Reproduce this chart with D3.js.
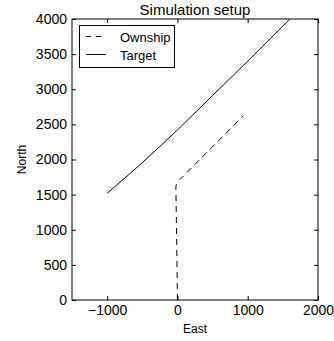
<!DOCTYPE html>
<html>
<head>
<meta charset="utf-8">
<script src="https://cdn.jsdelivr.net/npm/d3@7"></script>
<style>
  body { margin: 0; background: #fff; }
  text { font-family: "Liberation Sans", Arial, sans-serif; }
</style>
</head>
<body>
<svg id="plot" width="334" height="341"></svg>
<script>
// ownship track (east, north)
let ownEast  = [0, -10, -22, -20, -8, 10, 40, 935];
let ownNorth = [0, 800, 1580, 1630, 1665, 1690, 1720, 2620];

// target track (east, north)
let tgtEast  = [-1000, -750, -500, -250, 0, 500, 1000, 1600];
let tgtNorth = [1520, 1735, 1955, 2185, 2420, 2910, 3400, 4000];

let xTicks = [-1000, 0, 1000, 2000];
let yTicks = [0, 500, 1000, 1500, 2000, 2500, 3000, 3500, 4000];

let ownship = ownEast.map((e, i) => ({e: e, n: ownNorth[i]}));
let target = tgtEast.map((e, i) => ({e: e, n: tgtNorth[i]}));

let svg = d3.select("#plot");

let mLeft = 72, mRight = 318, mTop = 19, mBottom = 300;

let xScale = d3.scaleLinear().domain([-1500, 2000]).range([mLeft, mRight]);
let yScale = d3.scaleLinear().domain([0, 4000]).range([mBottom, mTop]);

// plain numbers, real minus sign
let fmt = d => d < 0 ? "\u2212" + Math.abs(d) : String(d);

// clip for lines
svg.append("clipPath").attr("id", "clip")
  .append("rect")
  .attr("x", mLeft).attr("y", mTop)
  .attr("width", mRight - mLeft).attr("height", mBottom - mTop);

let line = d3.line()
  .x(d => xScale(d.e))
  .y(d => yScale(d.n));

let plot = svg.append("g").attr("clip-path", "url(#clip)");

plot.append("path")
  .datum(target)
  .attr("d", line)
  .attr("fill", "none")
  .attr("stroke", "#000")
  .attr("stroke-width", 1);

plot.append("path")
  .datum(ownship)
  .attr("d", line)
  .attr("fill", "none")
  .attr("stroke", "#000")
  .attr("stroke-width", 1)
  .attr("stroke-dasharray", "6,5");

// axes - ticks inward on all sides
svg.append("g")
  .attr("transform", "translate(0," + mBottom + ")")
  .call(d3.axisBottom(xScale).tickValues(xTicks).tickSize(-4).tickPadding(5).tickFormat(fmt).tickSizeOuter(0))
  .call(g => g.select(".domain").remove())
  .call(g => g.selectAll("text").attr("font-size", 14).attr("fill", "#000"));

svg.append("g")
  .attr("transform", "translate(0," + mTop + ")")
  .call(d3.axisTop(xScale).tickValues(xTicks).tickSize(-4).tickFormat(""))
  .call(g => g.select(".domain").remove());

svg.append("g")
  .attr("transform", "translate(" + mLeft + ",0)")
  .call(d3.axisLeft(yScale).tickValues(yTicks).tickSize(-4).tickPadding(5).tickFormat(fmt).tickSizeOuter(0))
  .call(g => g.select(".domain").remove())
  .call(g => g.selectAll("text").attr("font-size", 14).attr("fill", "#000"));

svg.append("g")
  .attr("transform", "translate(" + mRight + ",0)")
  .call(d3.axisRight(yScale).tickValues(yTicks).tickSize(-4).tickFormat(""))
  .call(g => g.select(".domain").remove());

// frame
svg.append("rect")
  .attr("x", mLeft).attr("y", mTop)
  .attr("width", mRight - mLeft).attr("height", mBottom - mTop)
  .attr("fill", "none")
  .attr("stroke", "#000")
  .attr("stroke-width", 1);

// title and labels
svg.append("text")
  .attr("x", (mLeft + mRight) / 2).attr("y", 15)
  .attr("text-anchor", "middle")
  .attr("font-size", 15)
  .text("Simulation setup");

svg.append("text")
  .attr("x", (mLeft + mRight) / 2).attr("y", 333)
  .attr("text-anchor", "middle")
  .attr("font-size", 12)
  .text("East");

svg.append("text")
  .attr("transform", "translate(26," + ((mTop + mBottom) / 2) + ") rotate(-90)")
  .attr("text-anchor", "middle")
  .attr("font-size", 12)
  .text("North");

// legend
let legendNames = ["Ownship", "Target"];
let legendDash = ["5,5,5,30", null];

let lg = svg.append("g");
lg.append("rect")
  .attr("x", 79.5).attr("y", 25.5)
  .attr("width", 95).attr("height", 42)
  .attr("fill", "#fff")
  .attr("stroke", "#000");

legendNames.forEach((name, i) => {
  let yy = 36.5 + i * 18;
  lg.append("line")
    .attr("x1", 86).attr("x2", 106)
    .attr("y1", yy).attr("y2", yy)
    .attr("stroke", "#000")
    .attr("stroke-dasharray", legendDash[i]);
  lg.append("text")
    .attr("x", 120).attr("y", yy + 5)
    .attr("font-size", 13)
    .text(name);
});
</script>
</body>
</html>
